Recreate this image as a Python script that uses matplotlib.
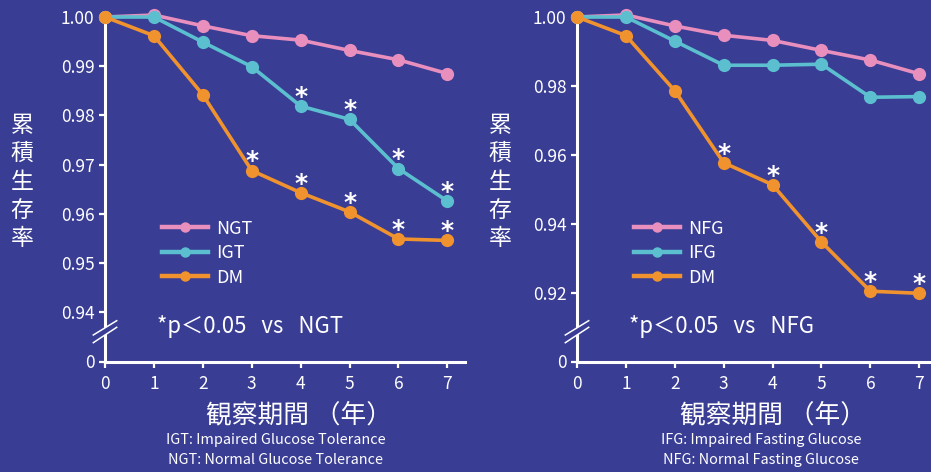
import matplotlib
matplotlib.use("Agg")
import matplotlib.pyplot as plt
from matplotlib.lines import Line2D
from matplotlib.patches import Polygon

plt.rcParams['font.family'] = ['Noto Sans CJK JP', 'DejaVu Sans']

# ---------------- data ----------------
years = [0, 1, 2, 3, 4, 5, 6, 7]

ngt = [1.0000, 1.0004, 0.9982, 0.9962, 0.9953, 0.9932, 0.9913, 0.9885]
igt = [1.0000, 1.0000, 0.9949, 0.9899, 0.9819, 0.9792, 0.9692, 0.9626]
dm_left = [1.0000, 0.9962, 0.9842, 0.9688, 0.9643, 0.9604, 0.9549, 0.9546]
sig_igt = [4, 5, 6, 7]
sig_dm_left = [3, 4, 5, 6, 7]

nfg = [1.0000, 1.0006, 0.9974, 0.9947, 0.9932, 0.9903, 0.9875, 0.9835]
ifg = [1.0000, 1.0000, 0.9930, 0.9860, 0.9860, 0.9863, 0.9767, 0.9769]
dm_right = [1.0000, 0.9946, 0.9786, 0.9577, 0.9513, 0.9347, 0.9204, 0.9198]
sig_dm_right = [3, 4, 5, 6, 7]

left_yticks = [0.93, 0.94, 0.95, 0.96, 0.97, 0.98, 0.99, 1.00]
left_ylabels = ['0', '0.94', '0.95', '0.96', '0.97', '0.98', '0.99', '1.00']
right_yticks = [0.90, 0.92, 0.94, 0.96, 0.98, 1.00]
right_ylabels = ['0', '0.92', '0.94', '0.96', '0.98', '1.00']

# ---------------- style ----------------
BG = '#393d94'
PINK = '#e98fbe'
CYAN = '#5cbfcf'
ORANGE = '#f0932f'
W, H = 931, 472

fig = plt.figure(figsize=(W / 100, H / 100), dpi=100, facecolor=BG)


def fx(px):
    return px / W


def fy(py):
    return 1 - py / H


def make_axes(left_px, right_px, xmax):
    ax = fig.add_axes([fx(left_px), fy(361.5), (right_px - left_px) / W, (361.5 - 17) / H])
    ax.set_facecolor(BG)
    ax.set_xlim(0, xmax)
    for s in ['top', 'right']:
        ax.spines[s].set_visible(False)
    for s in ['left', 'bottom']:
        ax.spines[s].set_color('white')
        ax.spines[s].set_linewidth(2.2)
    ax.tick_params(colors='white', labelcolor='white', labelsize=12.5,
                   length=4.5, width=1.6, direction='out')
    ax.tick_params(axis='x', pad=5)
    ax.tick_params(axis='y', pad=3)
    ax.set_xticks(years)
    return ax


def series(ax, ys, color):
    ax.plot(years, ys, color=color, lw=2.6, marker='o', ms=9.5,
            markeredgewidth=0, clip_on=False, zorder=3)


def stars(ax, xs, ys):
    for x in xs:
        ax.annotate('*', (x, ys[x]), xytext=(0, 1.5), textcoords='offset points',
                    ha='center', va='baseline', color='white', fontsize=18,
                    fontweight='bold', family=['DejaVu Sans'], annotation_clip=False)


def legend(ax, labels, x_anchor):
    handles = [Line2D([0], [0], color=c, lw=3.2, marker='o', ms=7.5, markeredgewidth=0)
               for c in (PINK, CYAN, ORANGE)]
    lg = ax.legend(handles, labels, loc='upper left', bbox_to_anchor=(x_anchor, 0.412),
                   frameon=False, fontsize=13, handlelength=2.55, handletextpad=0.45,
                   labelspacing=0.36, borderpad=0, borderaxespad=0)
    for t in lg.get_texts():
        t.set_color('white')


def break_marks(xc):
    # two parallel slashes across the y axis, gap filled with background
    up = [(xc - 11.7, 335.0), (xc + 11.7, 320.7)]
    lo = [(xc - 11.7, 342.7), (xc + 11.7, 327.3)]
    poly = Polygon([(fx(p[0]), fy(p[1])) for p in (up[0], up[1], lo[1], lo[0])],
                   closed=True, transform=fig.transFigure, facecolor=BG,
                   edgecolor='none', zorder=10)
    fig.add_artist(poly)
    for seg in (up, lo):
        fig.add_artist(Line2D([fx(seg[0][0]), fx(seg[1][0])], [fy(seg[0][1]), fy(seg[1][1])],
                              transform=fig.transFigure, color='white', lw=1.1, zorder=11))


# ---------------- left panel ----------------
axL = make_axes(105, 465, 7.36)
axL.set_ylim(0.93, 1.0)
axL.set_yticks(left_yticks)
axL.set_yticklabels(left_ylabels)
series(axL, ngt, PINK)
series(axL, igt, CYAN)
series(axL, dm_left, ORANGE)
stars(axL, sig_igt, igt)
stars(axL, sig_dm_left, dm_left)
legend(axL, ['NGT', 'IGT', 'DM'], 0.158)
fig.text(fx(157), fy(327), '*p＜0.05   vs   NGT', color='white', fontsize=16,
         ha='left', va='center')
break_marks(105)

# ---------------- right panel ----------------
axR = make_axes(577, 931, 7.24)
axR.set_ylim(0.90, 1.0)
axR.set_yticks(right_yticks)
axR.set_yticklabels(right_ylabels)
series(axR, nfg, PINK)
series(axR, ifg, CYAN)
series(axR, dm_right, ORANGE)
stars(axR, sig_dm_right, dm_right)
legend(axR, ['NFG', 'IFG', 'DM'], 0.161)
fig.text(fx(629), fy(327), '*p＜0.05   vs   NFG', color='white', fontsize=16,
         ha='left', va='center')
break_marks(577)

# ---------------- labels ----------------
for xc in (22, 500):
    fig.text(fx(xc), fy(182), '\n'.join('累積生存率'), color='white', fontsize=16.5,
             ha='center', va='center', linespacing=1.3)

fig.text(fx(299), fy(415), '観察期間 （年）', color='white', fontsize=18.5,
         ha='center', va='center')
fig.text(fx(773), fy(415), '観察期間 （年）', color='white', fontsize=18.5,
         ha='center', va='center')
fig.text(fx(276), fy(440), 'IGT: Impaired Glucose Tolerance', color='white',
         fontsize=10.4, ha='center', va='center')
fig.text(fx(275), fy(460), 'NGT: Normal Glucose Tolerance', color='white',
         fontsize=10.4, ha='center', va='center')
fig.text(fx(761), fy(440), 'IFG: Impaired Fasting Glucose', color='white',
         fontsize=10.4, ha='center', va='center')
fig.text(fx(761), fy(460), 'NFG: Normal Fasting Glucose', color='white',
         fontsize=10.4, ha='center', va='center')

fig.savefig('out.png', dpi=100, facecolor=BG)
